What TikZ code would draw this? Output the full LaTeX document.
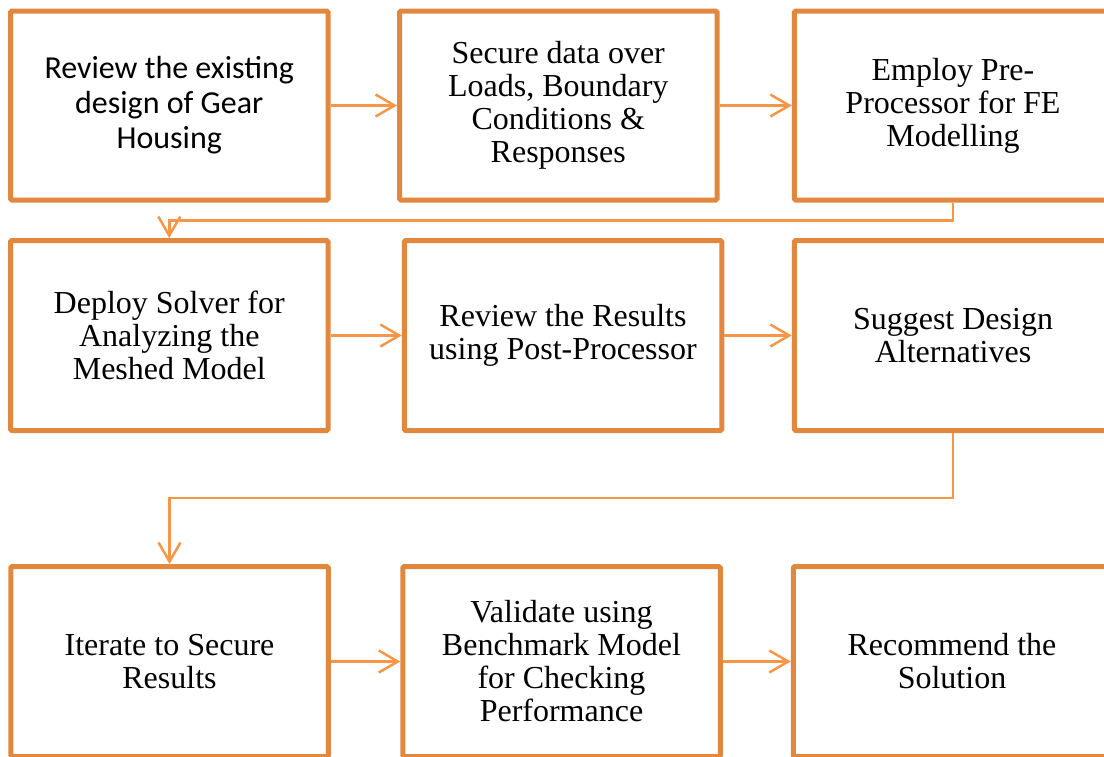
\documentclass[tikz,border=0pt]{standalone}
\usepackage{fontspec}
\setmainfont{Liberation Serif}
\newfontfamily\calib{Carlito}
\usetikzlibrary{arrows.meta}
\definecolor{boxcol}{RGB}{226,136,62}
\definecolor{arrcol}{RGB}{247,150,70}
\tikzset{
  proc/.style={draw=boxcol, line width=5pt, rounded corners=1.5pt, fill=white,
    minimum width=317.5pt, minimum height=189pt, align=center, inner sep=0pt,
    font=\fontsize{32}{33}\selectfont},
  conn/.style={draw=arrcol, line width=2.5pt,
    -{Straight Barb[length=19pt,width=22pt]}}
}
\begin{document}
\begin{tikzpicture}[x=1pt,y=-1pt]
\useasboundingbox (0,0) rectangle (1104,756);
\clip (0,0) rectangle (1104,756);
\node[proc, font=\calib\fontsize{32}{35}\selectfont] (b1) at (169.25,105.5) {Review the existing\\design of Gear\\Housing};
\node[proc] (b2) at (558.25,105.5) {Secure data over\\Loads, Boundary\\Conditions \&\\Responses};
\node[proc] (b3) at (953,105.5) {Employ Pre-\\Processor for FE\\Modelling};
\node[proc, minimum height=190pt] (b4) at (169.25,335.5) {Deploy Solver for\\Analyzing the\\Meshed Model};
\node[proc, minimum height=190pt] (b5) at (563,335.5) {Review the Results\\using Post-Processor};
\node[proc, minimum height=190pt] (b6) at (953,335.5) {Suggest Design\\Alternatives};
\node[proc, minimum height=190pt] (b7) at (169.5,661.5) {Iterate to Secure\\Results};
\node[proc, minimum height=190pt] (b8) at (561.5,661.5) {Validate using\\Benchmark Model\\for Checking\\Performance};
\node[proc, minimum height=190pt] (b9) at (952,661.5) {Recommend the\\Solution};
\draw[conn] (b1) -- (b2);
\draw[conn] (b2) -- (b3);
\draw[conn] (b3.south) -- ++(0,18) -| (b4.north);
\draw[conn] (b4) -- (b5);
\draw[conn] (b5) -- (b6);
\draw[conn] (b6.south) -- ++(0,65) -| (b7.north);
\draw[conn] (b7) -- (b8);
\draw[conn] (b8) -- (b9);
\end{tikzpicture}
\end{document}
